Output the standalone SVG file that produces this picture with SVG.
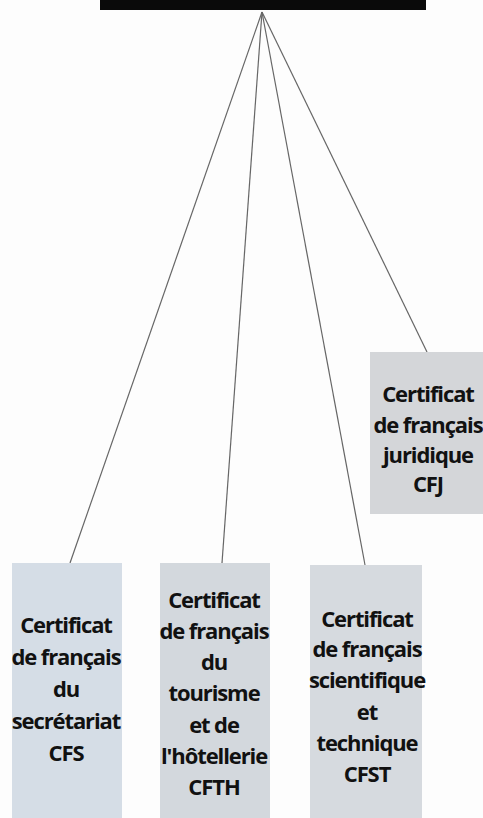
<svg xmlns="http://www.w3.org/2000/svg" width="483" height="818" viewBox="0 0 483 818">
<style>
.box{stroke:none}
.t{font-family:"Open Sans","DejaVu Sans",sans-serif;font-weight:700;font-size:22px;fill:#111;text-anchor:middle;letter-spacing:-1.1px}
.c{stroke:#666;stroke-width:1.2;fill:none}
</style>
<rect x="0" y="0" width="483" height="818" fill="#fdfdfd"/>
<g id="top"><rect x="100" y="0" width="326" height="10" fill="#0a0a0a"/></g>
<g id="connectors">
<line class="c" x1="262" y1="12" x2="70" y2="563"/>
<line class="c" x1="262" y1="12" x2="222" y2="563"/>
<line class="c" x1="262" y1="12" x2="365" y2="565"/>
<line class="c" x1="262" y1="12" x2="427" y2="352"/>
</g>
<g id="cfj">
<rect class="box" x="370" y="352" width="113" height="162" fill="#d4d6d9"/>
<text class="t" x="428" y="402">Certificat</text>
<text class="t" x="428" y="433">de français</text>
<text class="t" x="428" y="463">juridique</text>
<text class="t" x="428" y="492">CFJ</text>
</g>
<g id="cfs">
<rect class="box" x="12" y="563" width="110" height="255" fill="#d5dde6"/>
<text class="t" x="66" y="633">Certificat</text>
<text class="t" x="66" y="665">de français</text>
<text class="t" x="66" y="697">du</text>
<text class="t" x="66" y="729">secrétariat</text>
<text class="t" x="66" y="761">CFS</text>
</g>
<g id="cfth">
<rect class="box" x="160" y="563" width="110" height="255" fill="#d3d8dd"/>
<text class="t" x="214" y="608">Certificat</text>
<text class="t" x="214" y="639">de français</text>
<text class="t" x="214" y="670">du</text>
<text class="t" x="214" y="701">tourisme</text>
<text class="t" x="214" y="733">et de</text>
<text class="t" x="214" y="764">l'hôtellerie</text>
<text class="t" x="214" y="795">CFTH</text>
</g>
<g id="cfst">
<rect class="box" x="310" y="565" width="112" height="253" fill="#d6dadf"/>
<text class="t" x="367" y="627">Certificat</text>
<text class="t" x="367" y="657">de français</text>
<text class="t" x="367" y="688">scientifique</text>
<text class="t" x="367" y="720">et</text>
<text class="t" x="367" y="751">technique</text>
<text class="t" x="367" y="782">CFST</text>
</g>
</svg>
